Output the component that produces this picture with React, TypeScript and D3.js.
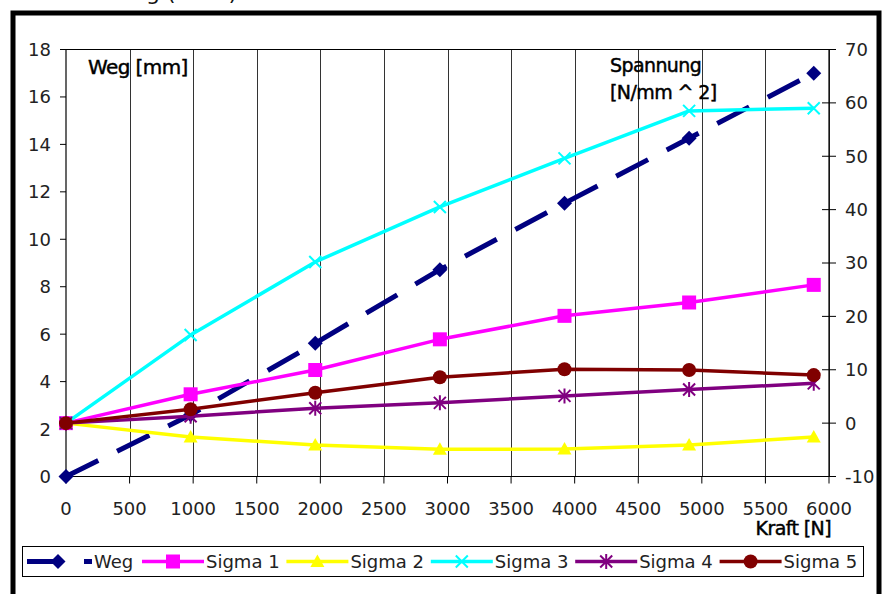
import React from "react";
import * as d3 from "d3";

// Load steps in newtons
const kraft = [0, 980, 1960, 2940, 3920, 4900, 5880];
// Displacement in mm (left axis)
const weg = [0, 2.6, 5.62, 8.72, 11.52, 14.26, 17.0];
// Stresses in N/mm^2 (right axis)
const sigma1 = [0, 5.4, 9.95, 15.7, 20.1, 22.6, 25.9];
const sigma2 = [0, -2.6, -4.1, -4.9, -4.85, -4.1, -2.6];
const sigma3 = [0, 16.5, 30.2, 40.5, 49.6, 58.5, 59.0];
const sigma4 = [0, 1.3, 2.8, 3.8, 5.1, 6.3, 7.45];
const sigma5 = [0, 2.6, 5.7, 8.6, 10.1, 9.95, 9.0];

const seriesNames = ["Weg", "Sigma 1", "Sigma 2", "Sigma 3", "Sigma 4", "Sigma 5"];
const xTicks = [0, 500, 1000, 1500, 2000, 2500, 3000, 3500, 4000, 4500, 5000, 5500, 6000];
const leftTicks = [0, 2, 4, 6, 8, 10, 12, 14, 16, 18];
const rightTicks = [-10, 0, 10, 20, 30, 40, 50, 60, 70];

const FONT = "'DejaVu Sans', sans-serif";

type MarkerKind = "diamond" | "square" | "triangle" | "x" | "star" | "circle";

interface Series {
  name: string;
  values: number[];
  axis: "left" | "right";
  color: string;
  width: number;
  dash?: string;
  marker: MarkerKind;
}

const series: Series[] = [
  { name: seriesNames[0], values: weg, axis: "left", color: "#000080", width: 5, dash: "36 21", marker: "diamond" },
  { name: seriesNames[1], values: sigma1, axis: "right", color: "#FF00FF", width: 3.5, marker: "square" },
  { name: seriesNames[2], values: sigma2, axis: "right", color: "#FFFF00", width: 3.5, marker: "triangle" },
  { name: seriesNames[3], values: sigma3, axis: "right", color: "#00FFFF", width: 3.5, marker: "x" },
  { name: seriesNames[4], values: sigma4, axis: "right", color: "#800080", width: 3.5, marker: "star" },
  { name: seriesNames[5], values: sigma5, axis: "right", color: "#800000", width: 3.5, marker: "circle" },
];

function Marker({ kind, x, y, color }: { kind: MarkerKind; x: number; y: number; color: string }) {
  switch (kind) {
    case "diamond":
      return <path d={`M${x},${y - 7.5}L${x + 7.5},${y}L${x},${y + 7.5}L${x - 7.5},${y}Z`} fill={color} />;
    case "square":
      return <rect x={x - 7} y={y - 7} width={14} height={14} fill={color} />;
    case "triangle":
      return <path d={`M${x},${y - 7}L${x + 7},${y + 5.5}L${x - 7},${y + 5.5}Z`} fill={color} />;
    case "x":
      return (
        <path
          d={`M${x - 6},${y - 6}L${x + 6},${y + 6}M${x - 6},${y + 6}L${x + 6},${y - 6}`}
          stroke={color}
          strokeWidth={2}
          fill="none"
        />
      );
    case "star":
      return (
        <path
          d={`M${x - 6},${y - 6}L${x + 6},${y + 6}M${x - 6},${y + 6}L${x + 6},${y - 6}M${x},${y - 7.5}L${x},${y + 7.5}`}
          stroke={color}
          strokeWidth={2}
          fill="none"
        />
      );
    case "circle":
      return <circle cx={x} cy={y} r={7} fill={color} />;
  }
}

export default function App() {
  const W = 882;
  const H = 594;
  const left = 66;
  const right = 829;
  const top = 49.5;
  const bottom = 476.5;

  const x = d3.scaleLinear().domain([0, 6000]).range([left, right]);
  const yL = d3.scaleLinear().domain([0, 18]).range([bottom, top]);
  const yR = d3.scaleLinear().domain([-10, 70]).range([bottom, top]);

  const lineFor = (s: Series) =>
    d3
      .line<number>()
      .x((_, i) => x(kraft[i]))
      .y((v) => (s.axis === "left" ? yL(v) : yR(v)))(s.values) || "";

  // Legend layout
  const legendY = 561.5;
  const legendStarts = series.map((_, i) => (i === 0 ? 27 : 142 + (i - 1) * 144.4));
  const legendLineLen = series.map((_, i) => (i === 0 ? 65 : 62));

  const titleProps = { fill: "#000", stroke: "#000", strokeWidth: 0.45, letterSpacing: -0.6 };

  return (
    <svg
      width={W}
      height={H}
      style={{ position: "absolute", left: 0, top: 0, background: "#fff" }}
      fontFamily={FONT}
    >
      <rect x={0} y={0} width={W} height={H} fill="#fff" />
      {/* chart title, mostly above the page edge */}
      <text x={112} y={0} fontSize={22} fill="#111">
        Weg (Kraft)
      </text>
      {/* outer chart frame */}
      <rect x={13} y={13} width={866} height={640} fill="#fff" stroke="#000" strokeWidth={5} />

      {/* vertical gridlines */}
      {xTicks.slice(1).map((t) => (
        <line key={`g${t}`} x1={Math.round(x(t)) + 0.5} x2={Math.round(x(t)) + 0.5} y1={top} y2={bottom} stroke="#333" strokeWidth={1} />
      ))}
      {/* plot frame */}
      <line x1={left} x2={right} y1={top} y2={top} stroke="#000" strokeWidth={1} />
      <line x1={left} x2={right} y1={bottom} y2={bottom} stroke="#000" strokeWidth={1.2} />
      <line x1={left} x2={left} y1={top} y2={bottom} stroke="#000" strokeWidth={1.2} />
      <line x1={right} x2={right} y1={top} y2={bottom} stroke="#000" strokeWidth={1.2} />

      {/* left axis */}
      {leftTicks.map((t) => (
        <g key={`l${t}`}>
          <line x1={left - 6} x2={left} y1={yL(t)} y2={yL(t)} stroke="#000" />
          <text x={51} y={yL(t)} dy="0.36em" textAnchor="end" fontSize={18} fill="#222">
            {t}
          </text>
        </g>
      ))}
      {/* right axis */}
      {rightTicks.map((t) => (
        <g key={`r${t}`}>
          <line x1={right - 7} x2={right + 7} y1={yR(t)} y2={yR(t)} stroke="#000" />
          <text x={845} y={yR(t)} dy="0.36em" textAnchor="start" fontSize={18} fill="#222">
            {t}
          </text>
        </g>
      ))}
      {/* bottom axis */}
      {xTicks.map((t) => (
        <g key={`x${t}`}>
          <line x1={x(t)} x2={x(t)} y1={bottom} y2={bottom + 7} stroke="#000" />
          <text x={x(t)} y={515} textAnchor="middle" fontSize={18} fill="#222">
            {t}
          </text>
        </g>
      ))}

      {/* axis titles */}
      <text x={88} y={74} fontSize={20} {...titleProps}>
        Weg [mm]
      </text>
      <text x={610} y={72} fontSize={19} {...titleProps}>
        Spannung
      </text>
      <text x={610} y={99} fontSize={19} {...titleProps}>
        [N/mm ^ 2]
      </text>
      <text x={831} y={535} fontSize={19} textAnchor="end" {...titleProps}>
        Kraft [N]
      </text>

      {/* series */}
      {series.map((s) => (
        <g key={s.name}>
          <path
            d={lineFor(s)}
            fill="none"
            stroke={s.color}
            strokeWidth={s.width}
            strokeDasharray={s.dash}
            strokeLinejoin="round"
          />
          {s.values.map((v, i) => (
            <Marker
              key={i}
              kind={s.marker}
              x={x(kraft[i])}
              y={s.axis === "left" ? yL(v) : yR(v)}
              color={s.color}
            />
          ))}
        </g>
      ))}

      {/* legend */}
      <rect x={22.5} y={546.5} width={841} height={30} fill="#fff" stroke="#000" strokeWidth={1} />
      {series.map((s, i) => {
        const x0 = legendStarts[i];
        const len = legendLineLen[i];
        const mx = i === 0 ? x0 + 31 : x0 + len / 2;
        return (
          <g key={`leg${s.name}`}>
            <line
              x1={x0}
              x2={x0 + len}
              y1={legendY}
              y2={legendY}
              stroke={s.color}
              strokeWidth={s.width}
              strokeDasharray={s.dash}
            />
            <Marker kind={s.marker} x={mx} y={legendY} color={s.color} />
            <text x={x0 + len + 2} y={legendY} dy="0.36em" fontSize={18} fill="#222">
              {s.name}
            </text>
          </g>
        );
      })}
    </svg>
  );
}
